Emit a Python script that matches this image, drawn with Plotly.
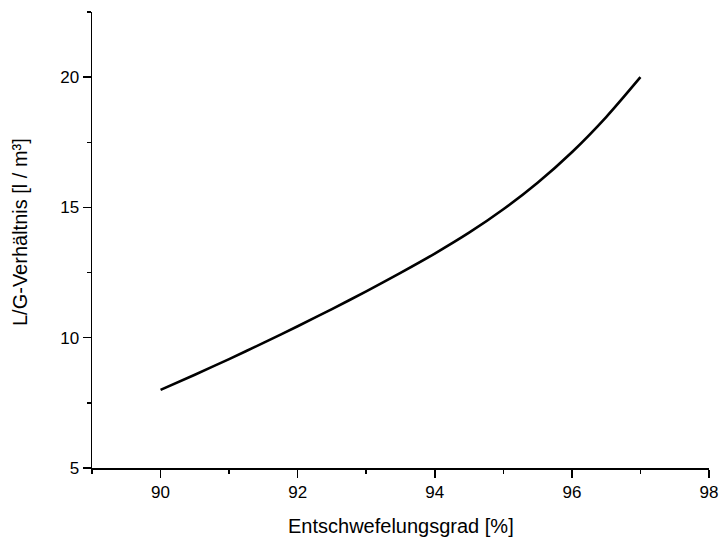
import plotly.graph_objects as go

# Data
entschwefelungsgrad = [90.0, 90.5, 91.0, 91.5, 92.0, 92.5, 93.0, 93.5, 94.0, 94.5, 95.0, 95.5, 96.0, 96.5, 97.0]
lg_verhaeltnis = [8.0, 8.58, 9.18, 9.80, 10.44, 11.10, 11.78, 12.49, 13.23, 14.03, 14.93, 15.95, 17.12, 18.47, 20.0]

x_tickvals = [90, 92, 94, 96, 98]
y_tickvals = [5, 10, 15, 20]
x_title = "Entschwefelungsgrad [%]"
y_title = "L/G-Verhältnis [l / m³]"

FONT = "Liberation Sans, Arial, sans-serif"

fig = go.Figure()
fig.add_trace(go.Scatter(
    x=entschwefelungsgrad, y=lg_verhaeltnis,
    mode="lines", line=dict(color="black", width=2.6, shape="spline", smoothing=0.8),
    showlegend=False, hoverinfo="skip",
))

fig.update_layout(
    width=721, height=538,
    margin=dict(l=92, r=12, t=12, b=70, autoexpand=False),
    paper_bgcolor="white", plot_bgcolor="white",
    font=dict(family=FONT, color="black", size=17),
)
fig.update_xaxes(
    range=[89, 98], tickvals=x_tickvals, ticktext=[str(v) for v in x_tickvals],
    showgrid=False, zeroline=False, showline=True, linecolor="black", linewidth=1.5,
    ticks="outside", ticklen=8, tickwidth=1.5, tickcolor="black",
    minor=dict(dtick=1, tick0=89, ticks="outside", ticklen=4, tickwidth=1.5, tickcolor="black", showgrid=False),
    tickfont=dict(size=17), automargin=False,
)
fig.update_yaxes(
    range=[5, 22.5], tickvals=y_tickvals, ticktext=[str(v) for v in y_tickvals],
    showgrid=False, zeroline=False, showline=True, linecolor="black", linewidth=1.5,
    ticks="outside", ticklen=8, tickwidth=1.5, tickcolor="black",
    minor=dict(dtick=2.5, tick0=5, ticks="outside", ticklen=4, tickwidth=1.5, tickcolor="black", showgrid=False),
    tickfont=dict(size=17), automargin=False,
)
fig.add_annotation(text=x_title, xref="paper", yref="paper", x=0.5, y=-0.127,
                   xanchor="center", yanchor="middle", showarrow=False, font=dict(size=20))
fig.add_annotation(text=y_title, xref="paper", yref="paper", x=-0.1167, y=0.5175,
                   xanchor="center", yanchor="middle", textangle=-90, showarrow=False, font=dict(size=20))

fig.write_html("out.html", config={"displayModeBar": False, "staticPlot": True},
               post_script="document.body.style.margin='0';document.body.style.overflow='hidden';")
